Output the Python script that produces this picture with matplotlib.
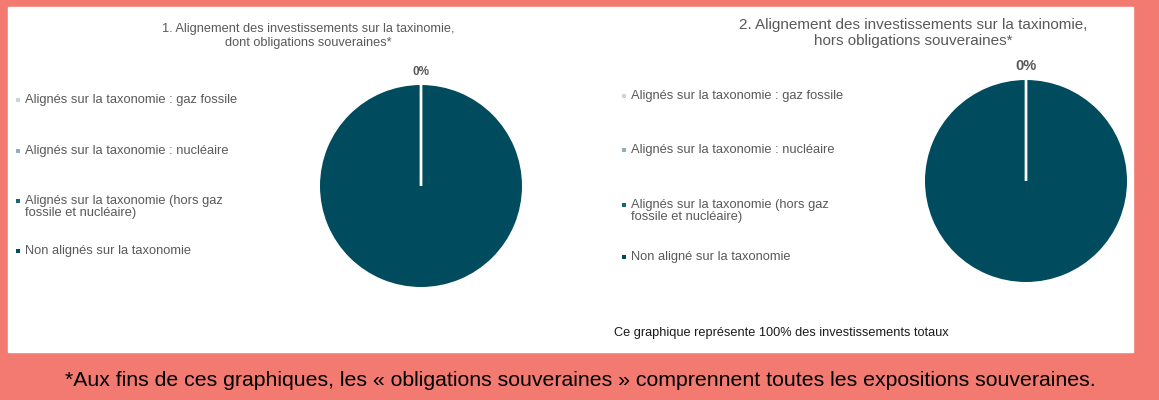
import numpy as np
import matplotlib
matplotlib.use("Agg")
import matplotlib.pyplot as plt

plt.rcParams['font.family'] = ['Liberation Sans', 'DejaVu Sans']

# data
categories_1 = [
    "Alignés sur la taxonomie : gaz fossile",
    "Alignés sur la taxonomie : nucléaire",
    "Alignés sur la taxonomie (hors gaz\nfossile et nucléaire)",
    "Non alignés sur la taxonomie",
]
categories_2 = [
    "Alignés sur la taxonomie : gaz fossile",
    "Alignés sur la taxonomie : nucléaire",
    "Alignés sur la taxonomie (hors gaz\nfossile et nucléaire)",
    "Non aligné sur la taxonomie",
]
values_1 = [0, 0, 0, 100]
values_2 = [0, 0, 0, 100]
colors = ["#c9d6dc", "#93aeb9", "#156678", "#004c5e"]

title_1 = "1. Alignement des investissements sur la taxinomie,\ndont obligations souveraines*"
title_2 = "2. Alignement des investissements sur la taxinomie,\nhors obligations souveraines*"
note = "Ce graphique représente 100% des investissements totaux"
footnote = ("*Aux fins de ces graphiques, les « obligations souveraines » "
            "comprennent toutes les expositions souveraines.")

W, H = 1159, 400
fig = plt.figure(figsize=(W / 100, H / 100), dpi=100)
fig.patch.set_facecolor("#f27a70")

# overlay in pixel coords
bg = fig.add_axes([0, 0, 1, 1])
bg.set_xlim(0, W)
bg.set_ylim(H, 0)
bg.axis('off')
bg.add_patch(plt.Rectangle((8, 7), 1133 - 8, 352 - 7, color="white", zorder=0))

gray = "#595959"


def pie_panel(vals, cx, cy, r, lbl_size, lbl_y):
    ax = fig.add_axes([(cx - r) / W, (H - cy - r) / H, 2 * r / W, 2 * r / H])
    ax.pie(vals, colors=colors, startangle=90, counterclock=False,
           wedgeprops=dict(edgecolor="white", linewidth=0))
    # white separators between slices (zero slices collapse onto one line)
    total = sum(vals)
    bounds = 90 - np.cumsum([0] + vals[:-1]) / total * 360
    for a in bounds:
        t = np.deg2rad(a)
        ax.plot([0, np.cos(t)], [0, np.sin(t)], color="white", lw=1.6,
                solid_capstyle='butt', zorder=5)
    ax.set_xlim(-1, 1)
    ax.set_ylim(-1, 1)
    ax.set_aspect('auto')
    pct = vals[0] / total * 100
    ax.text(0, lbl_y, f"{pct:.0f}%", ha='center', va='center', fontsize=lbl_size,
            fontweight='bold', color=gray, clip_on=False)
    return ax


def legend_panel(labels, x, ys, size):
    for lab, c, y in zip(labels, colors, ys):
        bg.plot(x, y, marker='s', ms=3.2, color=c, mew=0)
        bg.text(x + 7, y - 6, lab, fontsize=size, color=gray, va='top',
                ha='left', linespacing=1.05)


pie_panel(values_1, 421, 186, 101, 8.5, 1.13)
pie_panel(values_2, 1026, 181, 101, 10.5, 1.14)

legend_panel(categories_1, 18, [100, 151, 201, 251], 9.3)
legend_panel(categories_2, 624, [96, 150, 205, 257], 9.3)

bg.text(308, 36, title_1, ha='center', va='center', fontsize=9.2, color=gray,
        linespacing=1.15)
bg.text(913, 33, title_2, ha='center', va='center', fontsize=11, color=gray,
        linespacing=1.1)
bg.text(614, 333, note, ha='left', va='center', fontsize=9.2, color="#1a1a1a")
bg.text(580, 381, footnote, ha='center', va='center', fontsize=15.3, color="black")

fig.savefig("out.png", dpi=100, facecolor=fig.get_facecolor())
